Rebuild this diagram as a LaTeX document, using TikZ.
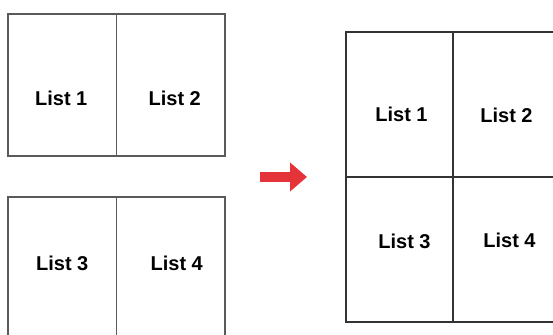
\documentclass[tikz,border=0pt]{standalone}
\usepackage{fontspec}
\setsansfont{Liberation Sans}
\usetikzlibrary{arrows.meta,positioning}
\definecolor{flecha}{HTML}{E5333A}
\definecolor{bordeizq}{HTML}{5A5A5A}
\definecolor{bordeder}{HTML}{333333}

\begin{document}
\begin{tikzpicture}[
    x=1pt, y=-1pt,
    font=\fontsize{20}{24}\selectfont\sffamily\bfseries,
    celda/.style={
      draw=bordeizq, line width=1.6pt, inner sep=0pt, outer sep=0pt,
      minimum width=108.5pt, minimum height=142pt
    },
    celdab/.style={
      draw=bordeder, line width=1.6pt, inner sep=0pt, outer sep=0pt,
      minimum width=107pt, minimum height=145pt
    },
    lista/.style={inner sep=0pt},
    arr/.style={-{Triangle[length=17pt, width=28pt]}, line width=10pt, flecha}
  ]
    \clip (0,0) rectangle (553,334);

    % --- Listas separadas (izquierda) ---
    \node[celda] (a1) at (62.25,85) {};
    \node[celda, right=0pt of a1] (a2) {};
    \node[celda, minimum height=143pt] (a3) at (62.25,268.5) {};
    \node[celda, minimum height=143pt, right=0pt of a3] (a4) {};

    \node[lista] (la1) at ([shift={(-1,13)}]a1.center) {List 1};
    \node[lista] (la2) at ([shift={(4,13)}]a2.center) {List 2};
    \node[lista] (la3) at ([shift={(0,-5)}]a3.center) {List 3};
    \node[lista] (la4) at ([shift={(6,-5)}]a4.center) {List 4};

    % --- Flecha ---
    \coordinate (f0) at (260,177);
    \coordinate (f1) at (307,177);
    \draw[arr] (f0) -- (f1);

    % --- Listas unidas (derecha) ---
    \node[celdab] (b1) at (399.5,104.5) {};
    \node[celdab, right=0pt of b1] (b2) {};
    \node[celdab, below=0pt of b1] (b3) {};
    \node[celdab, right=0pt of b3] (b4) {};

    \node[lista] (lb1) at ([shift={(2,9.5)}]b1.center) {List 1};
    \node[lista] (lb2) at ([shift={(0,10.5)}]b2.center) {List 2};
    \node[lista] (lb3) at ([shift={(5,-8.5)}]b3.center) {List 3};
    \node[lista] (lb4) at ([shift={(3,-9.5)}]b4.center) {List 4};
  \end{tikzpicture}
\end{document}
